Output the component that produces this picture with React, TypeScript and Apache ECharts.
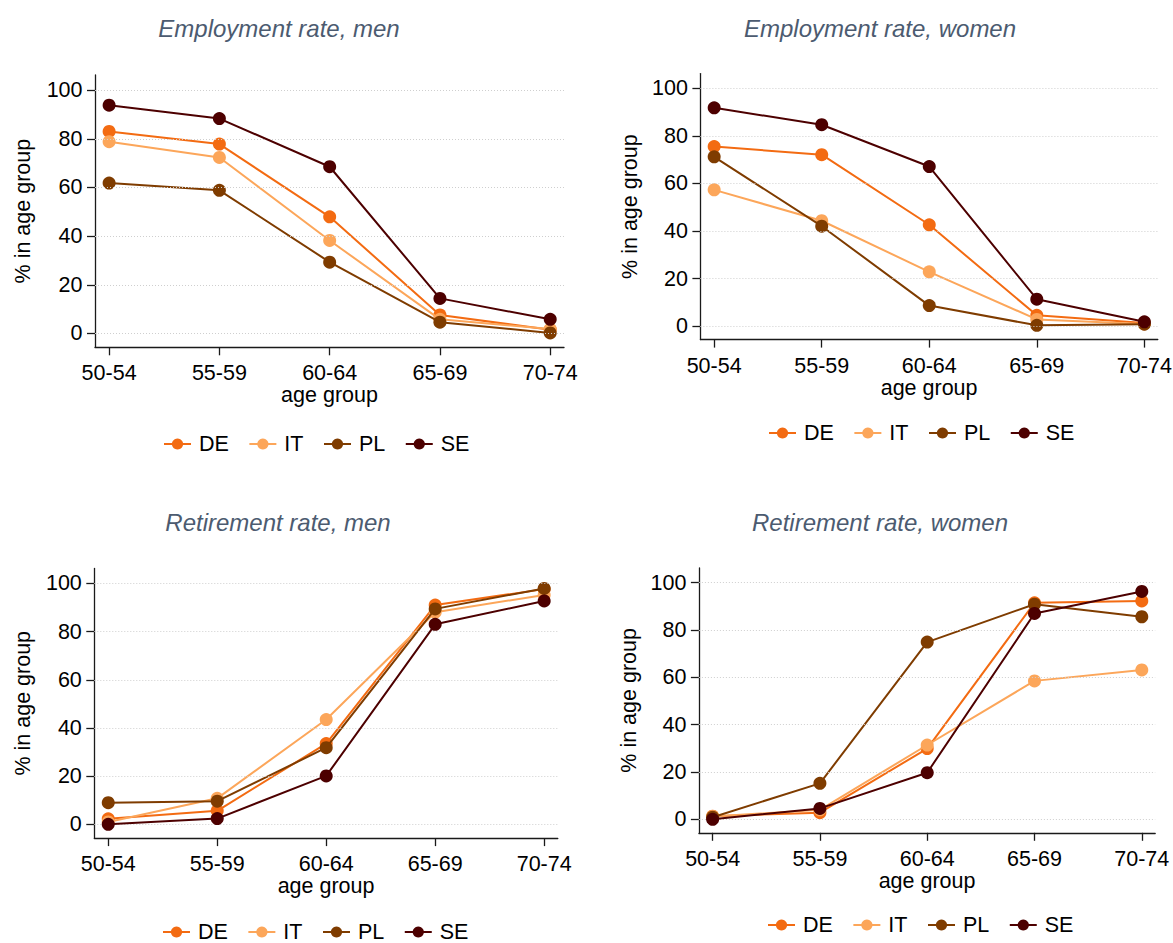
import React, { useEffect, useRef } from "react";
import * as echarts from "echarts";

const categories = ["50-54", "55-59", "60-64", "65-69", "70-74"];
const countries = ["DE", "IT", "PL", "SE"];
const colors = ["#f36b12", "#fca65a", "#7f3c00", "#4d0000"];
const yTicks = [0, 20, 40, 60, 80, 100];

const empMenDE = [83.0, 77.8, 47.9, 7.6, 1.5];
const empMenIT = [78.8, 72.3, 38.2, 5.8, 1.8];
const empMenPL = [61.8, 58.8, 29.3, 4.6, 0.2];
const empMenSE = [93.8, 88.3, 68.5, 14.4, 5.8];

const empWomenDE = [75.5, 72.1, 42.6, 4.5, 1.3];
const empWomenIT = [57.3, 44.3, 22.8, 2.8, 0.9];
const empWomenPL = [71.2, 42.0, 8.6, 0.3, 0.8];
const empWomenSE = [91.8, 84.7, 67.1, 11.3, 1.8];

const retMenDE = [2.3, 5.6, 33.5, 91.0, 97.6];
const retMenIT = [1.0, 10.8, 43.5, 88.0, 95.2];
const retMenPL = [9.0, 9.6, 31.8, 89.4, 97.9];
const retMenSE = [0.0, 2.4, 20.1, 83.0, 92.7];

const retWomenDE = [1.3, 2.8, 29.9, 91.5, 92.3];
const retWomenIT = [1.2, 4.0, 31.4, 58.5, 63.1];
const retWomenPL = [0.9, 15.2, 74.9, 90.9, 85.6];
const retWomenSE = [0.0, 4.6, 19.7, 87.0, 96.3];

const panelTitles = [
  "Employment rate, men",
  "Employment rate, women",
  "Retirement rate, men",
  "Retirement rate, women",
];
const panelData = [
  [empMenDE, empMenIT, empMenPL, empMenSE],
  [empWomenDE, empWomenIT, empWomenPL, empWomenSE],
  [retMenDE, retMenIT, retMenPL, retMenSE],
  [retWomenDE, retWomenIT, retWomenPL, retWomenSE],
];

const FONT = "'Liberation Sans', Arial, Helvetica, sans-serif";

// layout (pixels)
const grids = [
  { left: 95, top: 75, width: 469, height: 272.3 },
  { left: 700.4, top: 73.6, width: 457.4, height: 266 },
  { left: 94.3, top: 568.4, width: 463.5, height: 269.7 },
  { left: 698.9, top: 568, width: 456.3, height: 264.8 },
];
const nameGaps = [61, 59.5, 60.5, 58.5];
const titlePos = [
  { x: 279, y: 28 },
  { x: 880, y: 28 },
  { x: 278, y: 522 },
  { x: 880, y: 522 },
];
const legendPos = [
  { left: 163, top: 433 },
  { left: 768, top: 422 },
  { left: 162, top: 921 },
  { left: 767, top: 914 },
];

export default function App() {
  const ref = useRef<HTMLDivElement>(null);
  useEffect(() => {
    if (!ref.current) return;
    const chart = echarts.init(ref.current, null, { renderer: "svg" });

    const series: any[] = [];
    panelData.forEach((sets, p) => {
      series.push({
        type: "line",
        name: "_grid" + p,
        xAxisIndex: p,
        yAxisIndex: p,
        data: [],
        z: 1,
        silent: true,
        markLine: {
          silent: true,
          symbol: "none",
          label: { show: false },
          lineStyle: { type: [1, 2], color: "#cfcfcf", width: 1 },
          data: yTicks.map((v) => ({ yAxis: v })),
        },
      });
      sets.forEach((vals, k) => {
        series.push({
          type: "line",
          name: countries[k],
          xAxisIndex: p,
          yAxisIndex: p,
          z: 2 + k,
          data: vals.map((v, i) => [i, v]),
          symbol: "circle",
          symbolSize: 13,
          color: colors[k],
          lineStyle: { width: 2, color: colors[k] },
          itemStyle: { color: colors[k] },
        });
      });
    });

    const option: any = {
      animation: false,
      backgroundColor: "#ffffff",
      textStyle: { fontFamily: FONT },
      grid: grids.map((g) => ({ ...g, containLabel: false, outerBoundsMode: "none" })),
      xAxis: grids.map((_, p) => ({
        type: "value",
        gridIndex: p,
        min: -0.128,
        max: 4.125,
        name: "age group",
        nameLocation: "middle",
        nameGap: 37,
        nameMoveOverlap: false,
        nameTextStyle: { fontSize: 21.5, color: "#000", fontFamily: FONT },
        axisLine: { onZero: false, lineStyle: { color: "#1a1a1a", width: 1.3 } },
        axisTick: { show: true, length: 8, customValues: [0, 1, 2, 3, 4], lineStyle: { color: "#1a1a1a", width: 1.3 } },
        axisLabel: {
          customValues: [0, 1, 2, 3, 4],
          formatter: (v: number) => categories[Math.round(v)],
          fontSize: 21.5,
          color: "#000",
          margin: 15,
          fontFamily: FONT,
        },
        splitLine: { show: false },
      })),
      yAxis: grids.map((_, p) => ({
        type: "value",
        gridIndex: p,
        min: -5.7,
        max: 106.2,
        name: "% in age group",
        nameLocation: "middle",
        nameRotate: 90,
        nameGap: nameGaps[p],
        nameMoveOverlap: false,
        nameTextStyle: { fontSize: 21.5, color: "#000", fontFamily: FONT },
        axisLine: { show: true, onZero: false, lineStyle: { color: "#1a1a1a", width: 1.3 } },
        axisTick: { show: true, length: 8, customValues: yTicks, lineStyle: { color: "#1a1a1a", width: 1.3 } },
        axisLabel: {
          customValues: yTicks,
          fontSize: 21.5,
          color: "#000",
          margin: 12.5,
          fontFamily: FONT,
        },
        splitLine: { show: false },
      })),
      legend: legendPos.map((lp) => ({
        left: lp.left,
        top: lp.top,
        orient: "horizontal",
        padding: 0,
        itemWidth: 27,
        itemHeight: 14,
        itemGap: 19.5,
        data: countries,
        selectedMode: false,
        textStyle: { fontSize: 21.5, color: "#000", fontFamily: FONT, padding: [0, 0, 0, 3] },
      })),
      graphic: titlePos.map((tp, p) => ({
        type: "text",
        x: tp.x,
        y: tp.y,
        silent: true,
        style: {
          text: panelTitles[p],
          x: 0,
          y: 0,
          textAlign: "center",
          textVerticalAlign: "middle",
          fontSize: 24,
          fontStyle: "italic",
          fontFamily: FONT,
          fill: "#4c5b70",
        },
      })),
      series,
    };
    chart.setOption(option);
    return () => chart.dispose();
  }, []);
  return (
    <div
      ref={ref}
      style={{ position: "fixed", left: 0, top: 0, width: 1173, height: 943, background: "#fff" }}
    />
  );
}
